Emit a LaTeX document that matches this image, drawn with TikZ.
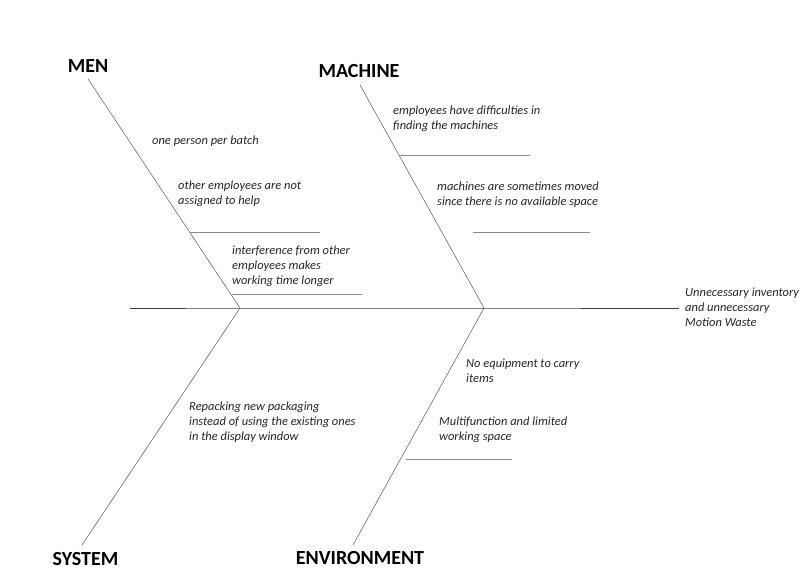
\documentclass[tikz,border=0pt]{standalone}
\usepackage{fontspec}
\setmainfont{Carlito}
\begin{document}
\begin{tikzpicture}[x=1pt,y=-1pt,
  head/.style={font=\fontsize{20}{24}\selectfont\bfseries, text=black, inner sep=0pt},
  cause/.style={font=\fontsize{12.45}{15}\selectfont\itshape, text=black!85, inner sep=0pt, anchor=west, align=left},
  spine/.style={draw=black!75, line width=0.9pt},
  bone/.style={draw=black!65, line width=0.5pt},
  sub/.style={draw=black!45, line width=0.8pt}]
\useasboundingbox (0,0) rectangle (799,569);
% joints and ends
\coordinate (tail) at (130,308);
\coordinate (j1) at (240,308);
\coordinate (j2) at (484,308);
\coordinate (head) at (679,308);
\coordinate (menT) at (88,79);
\coordinate (macT) at (360,85);
\coordinate (sysB) at (82,545);
\coordinate (envB) at (353,545);
% headings
\node[head] (men) at (88,66) {MEN};
\node[head] (machine) at (359,71) {MACHINE};
\node[head] (system) at (85.5,559.5) {SYSTEM};
\node[head] (environment) at (360,558.5) {ENVIRONMENT};
% lines
\draw[spine] (tail) -- (j1) -- (j2) -- (head);
\draw[bone] (menT) -- (j1);
\draw[bone] (macT) -- (j2);
\draw[bone] (j1) -- (sysB);
\draw[bone] (j2) -- (envB);
% sub lines
\coordinate (s1a) at (190,232); \coordinate (s1b) at (320,232);
\coordinate (s2a) at (232,294); \coordinate (s2b) at (362,294);
\coordinate (s3a) at (399,155); \coordinate (s3b) at (530,155);
\coordinate (s4a) at (473,232); \coordinate (s4b) at (590,232);
\coordinate (s5a) at (406,459); \coordinate (s5b) at (512,459);
\draw[sub] (s1a) -- (s1b);
\draw[sub] (s2a) -- (s2b);
\draw[sub] (s3a) -- (s3b);
\draw[sub] (s4a) -- (s4b);
\draw[sub] (s5a) -- (s5b);
% causes
\node[cause] (c1) at (152,141.5) {one person per batch};
\node[cause] (c2) at (178,194) {other employees are not\\assigned to help};
\node[cause] (c3) at (232,266.5) {interference from other\\employees makes\\working time longer};
\node[cause] (c4) at (393,119) {employees have difficulties in\\finding the machines};
\node[cause] (c5) at (437,195) {machines are sometimes moved\\since there is no available space};
\node[cause] (effect) at (685,307.5) {Unnecessary inventory\\and unnecessary\\Motion Waste};
\node[cause] (c6) at (189,422.5) {Repacking new packaging\\instead of using the existing ones\\in the display window};
\node[cause] (c7) at (466,371) {No equipment to carry\\items};
\node[cause] (c8) at (439,430) {Multifunction and limited\\working space};
\end{tikzpicture}
\end{document}
